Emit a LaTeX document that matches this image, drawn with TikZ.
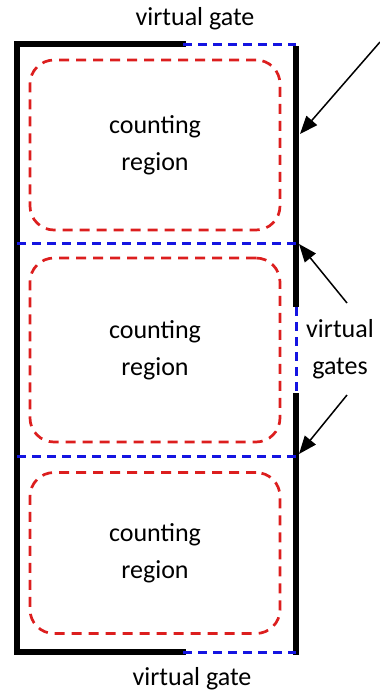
\documentclass[tikz,border=0pt]{standalone}
\usepackage{fontspec}
\setmainfont{Carlito}
\usetikzlibrary{arrows.meta}
\definecolor{gateblue}{RGB}{20,20,225}
\definecolor{regred}{RGB}{220,30,30}
\begin{document}
\begin{tikzpicture}[x=1pt,y=-1pt,
  wall/.style={line width=5.5pt,black},
  gate/.style={line width=3pt,gateblue,dash pattern=on 9pt off 6pt},
  region/.style={draw=regred,line width=2.7pt,dash pattern=on 10pt off 7pt,rounded corners=24pt,minimum width=250pt,align=center,font=\fontsize{26}{37}\selectfont},
  lbl/.style={font=\fontsize{26}{37}\selectfont,align=center},
  pointer/.style={-{Triangle[length=18pt,width=14pt]},line width=1.5pt}]
\useasboundingbox (0,0) rectangle (380,697);
\coordinate (tl) at (17,44);
\coordinate (tm) at (183,44);
\coordinate (tr) at (296,44);
\coordinate (bl) at (17,652);
\coordinate (bm) at (183,652);
\coordinate (br) at (296,652);
\coordinate (g1l) at (17,243);
\coordinate (g1r) at (296,243);
\coordinate (g2l) at (17,456);
\coordinate (g2r) at (296,456);
\coordinate (r1) at (296,307);
\coordinate (r2) at (296,393);
% walls
\draw[wall,line cap=rect] (tm) -- (tl) -- (bl) -- (bm);
\draw[wall] (296,46) -- (r1);
\draw[wall] (r2) -- (296,655);
% gates
\draw[gate] (tm) -- (tr);
\draw[gate] (bm) -- (br);
\draw[gate] (g1l) -- (g1r);
\draw[gate] (g2l) -- (g2r);
\draw[gate] (r1) -- (r2);
% regions
\node[region,minimum height=170pt] (c1) at (155,145) {counting\\region};
\node[region,minimum height=184pt] (c2) at (155,350) {counting\\region};
\node[region,minimum height=161pt] (c3) at (155,553) {counting\\region};
% labels
\node[lbl] (vt) at (195,19) {virtual gate};
\node[lbl] (vb) at (192,679) {virtual gate};
\node[lbl] (vg) at (340,349) {virtual\\gates};
% arrows
\coordinate (a1s) at (380,42);
\coordinate (a1e) at (300,134);
\coordinate (a2s) at (347,303);
\coordinate (a2e) at (299,244);
\coordinate (a3s) at (347,395);
\coordinate (a3e) at (299,454);
\draw[pointer] (a1s) -- (a1e);
\draw[pointer] (a2s) -- (a2e);
\draw[pointer] (a3s) -- (a3e);
\end{tikzpicture}
\end{document}
